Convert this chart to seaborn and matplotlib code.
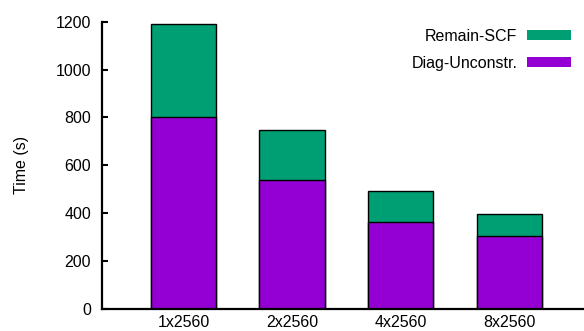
import matplotlib
matplotlib.use("Agg")
import matplotlib.pyplot as plt
from matplotlib.patches import Patch
import seaborn as sns
import pandas as pd

categories = ["1x2560", "2x2560", "4x2560", "8x2560"]
diag_unconstr = [800, 538, 363, 306]
remain_scf = [389, 208, 130, 91]
yticks = [0, 200, 400, 600, 800, 1000, 1200]

green = "#009e73"
purple = "#9400d3"
fs = 11.5

sns.set_theme(style="ticks")
plt.rcParams["font.family"] = ["Liberation Sans", "DejaVu Sans"]
plt.rcParams["text.color"] = "black"

df = pd.DataFrame({
    "config": categories,
    "diag": diag_unconstr,
    "total": [d + r for d, r in zip(diag_unconstr, remain_scf)],
})

fig = plt.figure(figsize=(5.84, 3.31), dpi=100)
ax = fig.add_axes([102 / 584, 22 / 331, 1 - 102 / 584, (309 - 21.7) / 331])

sns.barplot(data=df, x="config", y="total", color=green, width=0.6,
            edgecolor="black", linewidth=1.0, saturation=1, ax=ax)
sns.barplot(data=df, x="config", y="diag", color=purple, width=0.6,
            edgecolor="black", linewidth=1.0, saturation=1, ax=ax)

ax.set_xlim(-0.75, 3.69)
ax.set_ylim(0, 1200)
ax.set_yticks(yticks)
ax.set_yticklabels([str(v) for v in yticks], fontsize=fs)
ax.tick_params(axis="y", direction="in", length=4, width=1.5, pad=8, colors="black")
ax.tick_params(axis="x", length=0, pad=4, labelsize=fs, colors="black")
ax.set_xlabel("")
ax.set_ylabel("Time (s)", fontsize=fs, labelpad=19, color="black")

for side in ("top", "right"):
    ax.spines[side].set_visible(False)
for side in ("left", "bottom"):
    ax.spines[side].set_linewidth(1.6)
    ax.spines[side].set_color("black")

handles = [Patch(facecolor=green, edgecolor="none", label="Remain-SCF"),
           Patch(facecolor=purple, edgecolor="none", label="Diag-Unconstr.")]
ax.legend(handles=handles, loc="upper right", bbox_to_anchor=(1.003, 1.025),
          markerfirst=False, frameon=False, fontsize=fs, labelcolor="black",
          handlelength=2.75, handleheight=0.6, handletextpad=0.6,
          labelspacing=0.75)

fig.savefig("out.png", dpi=100)
